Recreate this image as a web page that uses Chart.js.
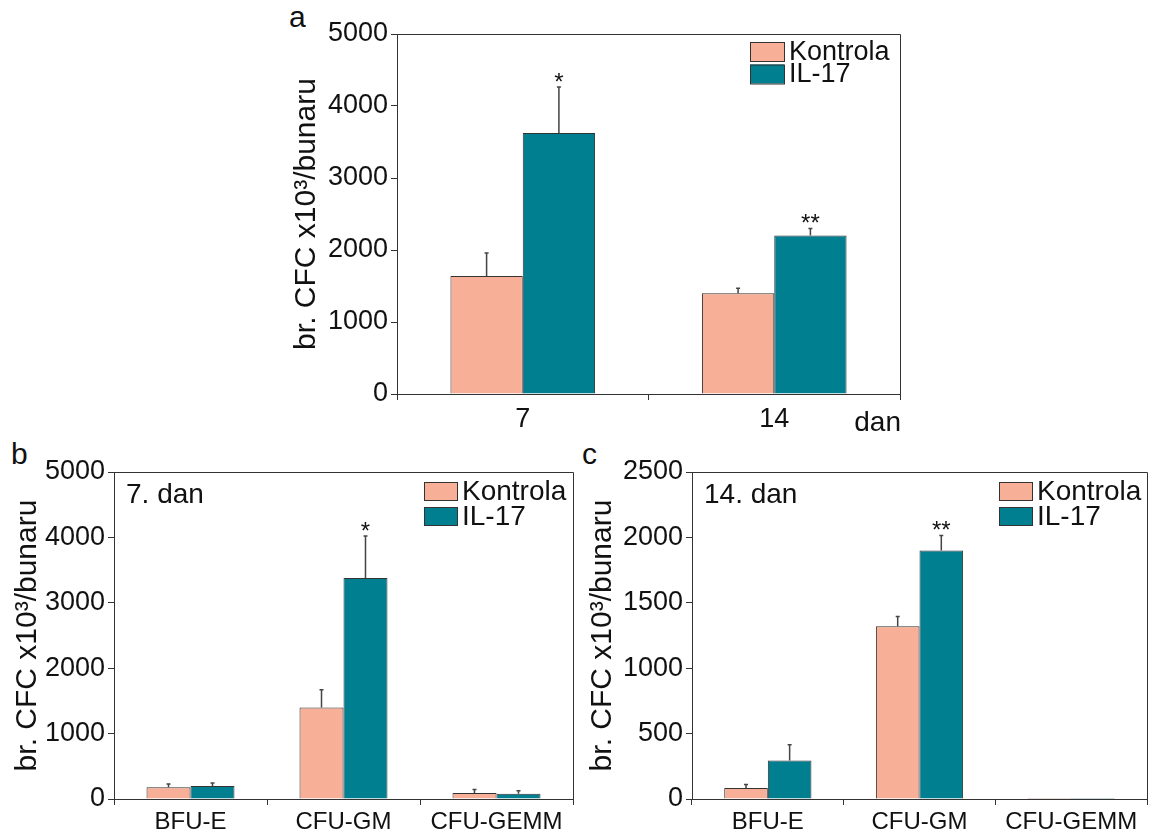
<!DOCTYPE html>
<html>
<head>
<meta charset="utf-8">
<script src="https://cdn.jsdelivr.net/npm/chart.js@4.4.0/dist/chart.umd.min.js"></script>
<style>
  body { margin: 0; background: #fff; width: 1151px; height: 834px; position: relative; overflow: hidden;
         font-family: "Liberation Sans", Arial, sans-serif; }
  canvas { position: absolute; }
  .letter { position: absolute; font-size: 30px; color: #111; line-height: 1; }
</style>
</head>
<body>
<div class="letter" style="left:289px;top:2px">a</div>
<div class="letter" style="left:11px;top:439px">b</div>
<div class="letter" style="left:582px;top:439px">c</div>
<canvas id="ca" width="650" height="440" style="left:270px;top:0px"></canvas>
<canvas id="cb" width="590" height="394" style="left:0px;top:440px"></canvas>
<canvas id="cc" width="571" height="394" style="left:580px;top:440px"></canvas>
<script>
// series names
const seriesNames = ['Kontrola', 'IL-17'];
const seriesColors = ['#F7AF97', '#007F91'];

// panel a - by day
const dayLabels = ['7', '14'];
const aKontrola = [1640, 1400];
const aIL17 = [3625, 2200];
const aKontrolaErr = [320, 70];
const aIL17Err = [640, 100];
const aIL17Stars = ['*', '**'];

// panel b - 7. dan
const cfcLabels = ['BFU-E', 'CFU-GM', 'CFU-GEMM'];
const bKontrola = [180, 1400, 90];
const bIL17 = [200, 3380, 80];
const bKontrolaErr = [50, 270, 55];
const bIL17Err = [45, 640, 45];
const bIL17Stars = ['', '*', ''];

// panel c - 14. dan
const cKontrola = [85, 1320, 8];
const cIL17 = [295, 1900, 8];
const cKontrolaErr = [25, 75, 0];
const cIL17Err = [120, 115, 0];
const cIL17Stars = ['', '**', ''];

const FONT = '"Liberation Sans", Arial, sans-serif';
const INK = '#333';

// error bars, stars, frame, legend and inner notes
const extras = {
  id: 'extras',
  afterDatasetsDraw(chart) {
    const o = chart.options.plugins.extras;
    const ctx = chart.ctx;
    const y = chart.scales.y;
    ctx.save();
    ctx.strokeStyle = '#444';
    ctx.lineWidth = 1.5;
    chart.data.datasets.forEach((ds, i) => {
      const meta = chart.getDatasetMeta(i);
      meta.data.forEach((bar, j) => {
        const err = o.errors[i][j];
        if (!err) return;
        const yt = y.getPixelForValue(ds.data[j] + err);
        ctx.beginPath();
        ctx.moveTo(bar.x, bar.y);
        ctx.lineTo(bar.x, yt);
        ctx.moveTo(bar.x - 2, yt);
        ctx.lineTo(bar.x + 2, yt);
        ctx.stroke();
        const star = o.stars[i] ? o.stars[i][j] : '';
        if (star) {
          ctx.fillStyle = '#111';
          ctx.font = '24px ' + FONT;
          ctx.textAlign = 'center';
          ctx.textBaseline = 'alphabetic';
          ctx.fillText(star, bar.x, yt + 3);
        }
      });
    });
    ctx.restore();
  },
  afterDraw(chart) {
    const o = chart.options.plugins.extras;
    const ctx = chart.ctx;
    const a = chart.chartArea;
    ctx.save();
    // frame top / right
    ctx.strokeStyle = INK;
    ctx.lineWidth = 1;
    ctx.beginPath();
    ctx.moveTo(a.left, a.top + 0.5);
    ctx.lineTo(a.right + 0.5, a.top + 0.5);
    ctx.lineTo(a.right + 0.5, a.bottom);
    ctx.stroke();
    // legend
    const L = o.legend;
    ctx.font = L.font + 'px ' + FONT;
    ctx.textAlign = 'left';
    ctx.textBaseline = 'middle';
    chart.data.datasets.forEach((ds, i) => {
      const bx = a.right - L.offX;
      const by = a.top + L.offY + i * L.rowH;
      ctx.fillStyle = ds.backgroundColor;
      ctx.fillRect(bx, by, L.boxW, L.boxH);
      ctx.strokeStyle = INK;
      ctx.strokeRect(bx + 0.5, by + 0.5, L.boxW, L.boxH);
      ctx.fillStyle = '#111';
      ctx.fillText(ds.label, bx + L.boxW + 5, by + L.boxH / 2 + 1);
    });
    // note inside plot
    if (o.note) {
      ctx.font = '28px ' + FONT;
      ctx.textBaseline = 'alphabetic';
      ctx.fillText(o.note, a.left + 12, a.top + 31);
    }
    // unit at end of x axis
    if (o.unit) {
      ctx.font = '28px ' + FONT;
      ctx.textAlign = 'right';
      ctx.textBaseline = 'alphabetic';
      ctx.fillText(o.unit, a.right + 1, a.bottom + 37);
    }
    ctx.restore();
  }
};

function makeChart(id, cfg) {
  new Chart(document.getElementById(id), {
    type: 'bar',
    data: {
      labels: cfg.labels,
      datasets: [
        { label: seriesNames[0], data: cfg.k, backgroundColor: seriesColors[0] },
        { label: seriesNames[1], data: cfg.i, backgroundColor: seriesColors[1] }
      ]
    },
    options: {
      responsive: false,
      animation: false,
      events: [],
      layout: { padding: cfg.padding },
      datasets: {
        bar: { barPercentage: 1, categoryPercentage: 0.575, borderWidth: 1, borderColor: INK }
      },
      plugins: {
        legend: { display: false },
        tooltip: { enabled: false },
        extras: { errors: [cfg.kErr, cfg.iErr], stars: [null, cfg.stars], legend: cfg.legend, note: cfg.note, unit: cfg.unit }
      },
      scales: {
        x: {
          grid: { display: true, drawOnChartArea: false, tickLength: 6, color: INK, offset: true },
          border: { color: INK },
          ticks: { color: '#111', font: { family: FONT, size: cfg.xFont }, padding: 3 },
          afterFit: s => { s.height = cfg.xH; }
        },
        y: {
          min: 0, max: cfg.max,
          grid: { display: true, drawOnChartArea: false, tickLength: 6, color: INK },
          border: { color: INK },
          ticks: { stepSize: cfg.step, color: '#111', font: { family: FONT, size: 27 }, padding: 3,
                   callback: v => String(v) },
          title: { display: true, text: 'br. CFC x10³/bunaru', color: '#111',
                   font: { family: FONT, size: 30 }, padding: { top: cfg.titlePad, bottom: 0 } },
          afterFit: s => { s.width = cfg.yW; }
        }
      }
    },
    plugins: [extras]
  });
}

makeChart('ca', {
  labels: dayLabels, k: aKontrola, i: aIL17, kErr: aKontrolaErr, iErr: aIL17Err, stars: aIL17Stars,
  max: 5000, step: 1000, padding: { top: 34, right: 20, left: 0, bottom: 0 },
  yW: 127, xH: 46, xFont: 27, titlePad: 19, unit: 'dan',
  legend: { font: 27, offX: 150, offY: 8, rowH: 22.5, boxW: 34, boxH: 19 }
});
makeChart('cb', {
  labels: cfcLabels, k: bKontrola, i: bIL17, kErr: bKontrolaErr, iErr: bIL17Err, stars: bIL17Stars,
  max: 5000, step: 1000, padding: { top: 32, right: 17, left: 0, bottom: 0 },
  yW: 114, xH: 35, xFont: 24, titlePad: 10, note: '7. dan',
  legend: { font: 28, offX: 149, offY: 10, rowH: 25, boxW: 33, boxH: 18 }
});
makeChart('cc', {
  labels: cfcLabels, k: cKontrola, i: cIL17, kErr: cKontrolaErr, iErr: cIL17Err, stars: cIL17Stars,
  max: 2500, step: 500, padding: { top: 32, right: 4, left: 0, bottom: 0 },
  yW: 112, xH: 35, xFont: 24, titlePad: 5, note: '14. dan',
  legend: { font: 28, offX: 148, offY: 10, rowH: 25, boxW: 33, boxH: 18 }
});
</script>
</body>
</html>
